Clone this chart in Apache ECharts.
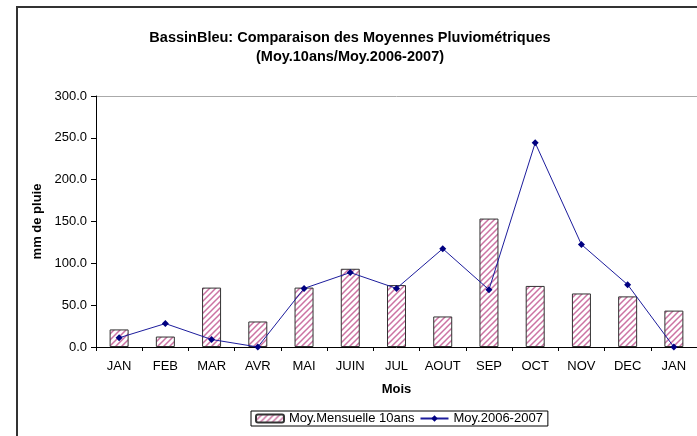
<!DOCTYPE html>
<html>
<head>
    <meta charset="UTF-8">
    <title>BassinBleu pluviométrie</title>
    <style>
        html, body { margin: 0; padding: 0; background: #fff; }
    </style>
</head>
<body>
    <div id="container" style="width: 697px;height: 436px;"></div>
    <script src="https://cdn.jsdelivr.net/npm/echarts@6/dist/echarts.min.js"></script>
    <script type="text/javascript">
        // données
        var mois = ['JAN', 'FEB', 'MAR', 'AVR', 'MAI', 'JUIN', 'JUL', 'AOUT', 'SEP', 'OCT', 'NOV', 'DEC', 'JAN'];
        var moy10ans = [21.0, 12.5, 71.0, 30.5, 71.0, 93.5, 74.0, 36.5, 153.5, 73.0, 64.0, 60.5, 43.5];
        var moy2006 = [11.0, 28.0, 9.0, 0.0, 70.0, 89.0, 70.0, 117.5, 68.5, 244.0, 122.5, 74.5, 0.0];
        var yTicks = [0, 50, 100, 150, 200, 250, 300];

        // motif hachuré pour les barres
        var hatch = document.createElement('canvas');
        hatch.width = 6;
        hatch.height = 6;
        var ctx = hatch.getContext('2d');
        ctx.fillStyle = '#ffffff';
        ctx.fillRect(0, 0, 6, 6);
        ctx.strokeStyle = '#cc73a3';
        ctx.lineWidth = 1.5;
        ctx.beginPath();
        ctx.moveTo(-1, 7); ctx.lineTo(7, -1);
        ctx.moveTo(-1, 1); ctx.lineTo(1, -1);
        ctx.moveTo(5, 7); ctx.lineTo(7, 5);
        ctx.stroke();

        var font = 'Liberation Sans, Arial, sans-serif';
        var myChart = echarts.init(document.getElementById('container'));
        var option = {
            animation: false,
            textStyle: { fontFamily: font },
            title: {
                text: 'BassinBleu: Comparaison des Moyennes Pluviométriques\n(Moy.10ans/Moy.2006-2007)',
                left: 345,
                textAlign: 'center',
                top: 23,
                textStyle: { fontSize: 14.5, fontWeight: 'bold', color: '#000', lineHeight: 19, fontFamily: font }
            },
            graphic: [{
                type: 'rect',
                shape: { x: 17, y: 7, width: 720, height: 460 },
                style: { fill: 'none', stroke: '#333', lineWidth: 2 },
                silent: true
            }],
            legend: {
                left: 251,
                top: 411,
                itemWidth: 28,
                itemHeight: 8,
                itemGap: 5,
                padding: [1, 5, 1, 4],
                borderColor: '#000',
                borderWidth: 1,
                textStyle: { fontSize: 13, color: '#000', fontFamily: font },
                data: ['Moy.Mensuelle 10ans', 'Moy.2006-2007']
            },
            grid: {
                left: 96,
                right: 0,
                top: 96,
                bottom: 89,
                containLabel: false
            },
            xAxis: {
                type: 'category',
                data: mois,
                boundaryGap: true,
                name: 'Mois',
                nameLocation: 'middle',
                nameGap: 36,
                nameTextStyle: { fontSize: 13, fontWeight: 'bold', color: '#000' },
                axisLine: { lineStyle: { color: '#000', width: 1 } },
                axisTick: { show: true, interval: 0, length: 4, lineStyle: { color: '#000' } },
                axisLabel: { interval: 0, fontSize: 13, color: '#000', margin: 13 }
            },
            yAxis: {
                type: 'value',
                min: 0,
                max: 300,
                interval: 50,
                name: 'mm de pluie',
                nameLocation: 'middle',
                nameGap: 49,
                nameTextStyle: { fontSize: 13, fontWeight: 'bold', color: '#000' },
                axisLine: { show: true, lineStyle: { color: '#000', width: 1 } },
                axisTick: { show: true, length: 5, lineStyle: { color: '#000' } },
                axisLabel: {
                    fontSize: 13,
                    color: '#000',
                    margin: 9,
                    formatter: function (v) { return v.toFixed(1); }
                },
                splitLine: {
                    show: true,
                    lineStyle: {
                        color: yTicks.map(function (t, i) { return i === yTicks.length - 1 ? '#aaaaaa' : 'rgba(0,0,0,0)'; }),
                        width: 1
                    }
                }
            },
            series: [{
                name: 'Moy.Mensuelle 10ans',
                type: 'bar',
                data: moy10ans,
                barWidth: 19,
                itemStyle: {
                    color: { image: hatch, repeat: 'repeat' },
                    borderColor: '#333',
                    borderWidth: 1
                }
            }, {
                name: 'Moy.2006-2007',
                type: 'line',
                data: moy2006,
                symbol: 'diamond',
                symbolSize: 7,
                showAllSymbol: true,
                lineStyle: { color: '#1c1c9c', width: 1 },
                itemStyle: { color: '#000080' }
            }]
        };
        myChart.setOption(option);
    </script>
</body>
</html>
